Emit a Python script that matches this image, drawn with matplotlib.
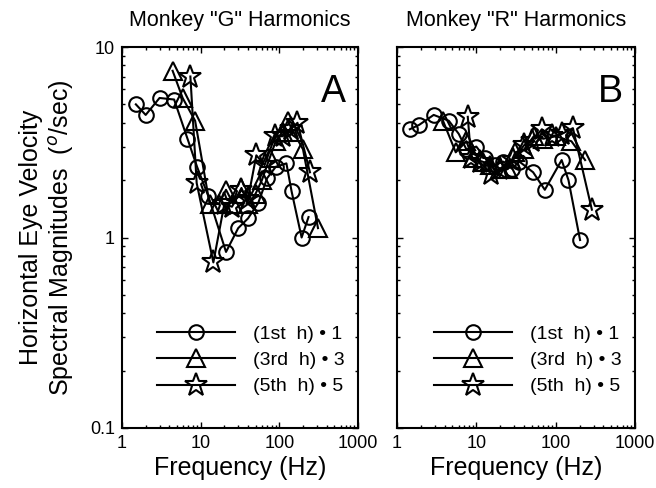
import matplotlib
matplotlib.use("Agg")
import matplotlib.pyplot as plt
from matplotlib.lines import Line2D

plt.rcParams['font.family'] = ['Liberation Sans', 'DejaVu Sans']
plt.rcParams['mathtext.fontset'] = 'custom'
plt.rcParams['mathtext.rm'] = 'Liberation Sans'

# Monkey G
fA1 = [1.5, 2.0, 3.0, 4.6, 6.8, 9.0, 12.5, 21, 30, 40, 54, 70, 90, 123, 143, 192, 235]
vA1 = [5.0, 4.4, 5.4, 5.3, 3.3, 2.35, 1.65, 0.84, 1.12, 1.26, 1.52, 2.05, 2.35, 2.45, 1.75, 1.0, 1.28]
fA3 = [4.4, 5.9, 8.5, 13, 17, 21, 26, 33, 40, 50, 60, 75, 90, 110, 128, 150, 200, 310]
vA3 = [7.5, 5.4, 4.1, 1.5, 1.5, 1.78, 1.5, 1.82, 1.5, 1.7, 2.0, 2.6, 3.2, 3.6, 4.1, 3.6, 2.9, 1.12]
fA5 = [7.4, 8.9, 14.5, 20, 25, 33, 40, 51, 65, 88, 110, 140, 170, 245]
vA5 = [7.0, 1.93, 0.74, 1.5, 1.45, 1.78, 1.6, 2.7, 2.4, 3.4, 3.4, 3.7, 4.0, 2.2]

# Monkey R
fB1 = [1.45, 1.9, 2.9, 4.5, 6.0, 7.5, 10, 13, 17, 22, 28, 35, 52, 73, 119, 145, 203]
vB1 = [3.7, 3.9, 4.4, 4.1, 3.5, 2.9, 3.0, 2.6, 2.4, 2.5, 2.3, 2.5, 2.2, 1.78, 2.55, 2.0, 0.97]
fB3 = [3.8, 5.5, 7.5, 9, 12, 15, 20, 25, 31, 40, 53, 70, 101, 158, 235]
vB3 = [4.1, 2.8, 3.2, 2.6, 2.5, 2.4, 2.3, 2.3, 2.8, 2.9, 3.4, 3.3, 3.4, 3.2, 2.55]
fB5 = [7.8, 8.6, 11, 15.5, 20, 29, 40, 50, 67, 90, 120, 165, 286]
vB5 = [4.3, 2.6, 2.5, 2.15, 2.3, 2.55, 3.05, 3.2, 3.7, 3.4, 3.5, 3.75, 1.4]

titles = ['Monkey "G" Harmonics', 'Monkey "R" Harmonics']
letters = ['A', 'B']
legend_labels = ['(1st  h) \u2022 1', '(3rd  h) \u2022 3', '(5th  h) \u2022 5']
xticks = [1, 10, 100, 1000]
xticklabels = ['1', '10', '100', '1000']
yticks = [0.1, 1, 10]
yticklabels = ['0.1', '1', '10']

fig = plt.figure(figsize=(6.56, 4.88), dpi=100)
axA = fig.add_axes([122/656, 1-428/488, 236/656, 381/488])
axB = fig.add_axes([397/656, 1-428/488, 238/656, 381/488])

styles = [dict(marker='o', ms=10.5), dict(marker='^', ms=13), dict(marker='*', ms=17)]
data = [[(fA1, vA1), (fA3, vA3), (fA5, vA5)], [(fB1, vB1), (fB3, vB3), (fB5, vB5)]]

for ax, d, title, letter in zip([axA, axB], data, titles, letters):
    for (f, v), st in zip(d, styles):
        ax.plot(f, v, color='black', lw=1.5, mfc='none', mec='black', mew=1.5, **st)
    ax.set_xscale('log')
    ax.set_yscale('log')
    ax.set_xlim(1, 1000)
    ax.set_ylim(0.1, 10)
    ax.set_xticks(xticks)
    ax.set_xticklabels(xticklabels)
    ax.tick_params(which='both', direction='in', top=True, right=True, labelsize=13, width=1)
    ax.tick_params(which='major', length=4, pad=5)
    ax.tick_params(which='minor', length=2)
    for s in ax.spines.values():
        s.set_linewidth(1.5)
    ax.set_title(title, fontsize=15.5, pad=15)
    ax.set_xlabel('Frequency (Hz)', fontsize=18, labelpad=3)
    ax.text(0.95, 0.93, letter, transform=ax.transAxes, fontsize=27, ha='right', va='top')
    handles = [Line2D([], [], color='black', lw=1.5, mfc='none', mec='black', mew=1.5, **st) for st in styles]
    ax.legend(handles, legend_labels, loc='lower right', bbox_to_anchor=(1.0, 0.05), frameon=False,
              fontsize=14, handlelength=4.0, handletextpad=0.9, labelspacing=0.45, borderaxespad=0.3)

axA.set_yticks(yticks)
axA.set_yticklabels(yticklabels)
axB.set_yticks(yticks)
axB.set_yticklabels([])
axA.set_ylabel('Horizontal Eye Velocity\nSpectral Magnitudes  ($^o$/sec)', fontsize=18, labelpad=10)

fig.savefig('out.png', dpi=100)
